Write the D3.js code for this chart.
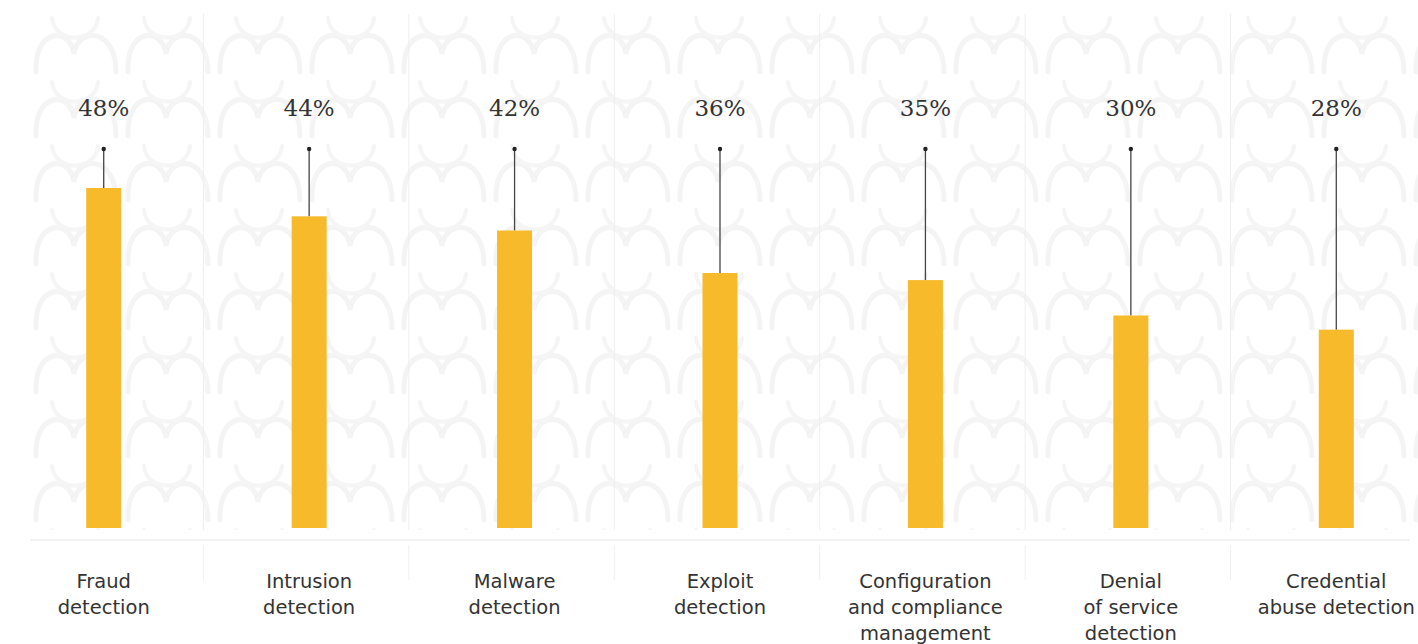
<html>
<head>
<style>
body { margin: 0; background: #fff; }
</style>
</head>
<body>
<svg id="chart"></svg>
<script src="https://cdnjs.cloudflare.com/ajax/libs/d3/7.8.5/d3.min.js"></script>
<script>
// data
var categories = ["Fraud detection", "Intrusion detection", "Malware detection", "Exploit detection",
  "Configuration and compliance management", "Denial of service detection", "Credential abuse detection"]
var labelLines = [
  ["Fraud", "detection"],
  ["Intrusion", "detection"],
  ["Malware", "detection"],
  ["Exploit", "detection"],
  ["Configuration", "and compliance", "management"],
  ["Denial", "of service", "detection"],
  ["Credential", "abuse detection"]
]
var values = [48, 44, 42, 36, 35, 30, 28]

var W = 1418, H = 644
var svg = d3.select("#chart").attr("width", W).attr("height", H)

var x = d3.scaleBand().domain(categories).range([1, 1439]).paddingInner(0)
var y = d3.scaleLinear().domain([0, 48]).range([528, 188])

// faint background pattern
var defs = svg.append("defs")
var pat = defs.append("pattern")
  .attr("id", "swirl")
  .attr("patternUnits", "userSpaceOnUse")
  .attr("width", 92).attr("height", 64)
  .attr("x", 30).attr("y", 14)
pat.append("path")
  .attr("d", "M6,58 C4,14 40,12 44,40 C48,12 86,14 86,58")
  .attr("fill", "none").attr("stroke", "#f4f4f4").attr("stroke-width", 5).attr("stroke-linecap", "round")
pat.append("path")
  .attr("d", "M22,4 C24,30 66,30 68,4")
  .attr("fill", "none").attr("stroke", "#f5f5f5").attr("stroke-width", 4).attr("stroke-linecap", "round")

svg.selectAll("rect.panel")
  .data(categories)
  .enter().append("rect")
  .attr("class", "panel")
  .attr("x", function(d, i) { return i == 0 ? 28 : x(d) })
  .attr("y", 14)
  .attr("width", function(d, i) { return i == 0 ? x(d) + x.bandwidth() - 28 : x.bandwidth() })
  .attr("height", 516)
  .attr("fill", "url(#swirl)")

// separators
var seps = categories.slice(1)
svg.selectAll("line.sep")
  .data(seps)
  .enter().append("line")
  .attr("x1", function(d) { return x(d) - 3 }).attr("x2", function(d) { return x(d) - 3 })
  .attr("y1", 14).attr("y2", 530)
  .attr("stroke", "#eeeeee").attr("stroke-width", 1)
svg.selectAll("line.sep2")
  .data(seps)
  .enter().append("line")
  .attr("x1", function(d) { return x(d) - 3 }).attr("x2", function(d) { return x(d) - 3 })
  .attr("y1", 545).attr("y2", 580)
  .attr("stroke", "#f0f0f0").attr("stroke-width", 1)

svg.append("line")
  .attr("x1", 30).attr("x2", 1410)
  .attr("y1", 540).attr("y2", 540)
  .attr("stroke", "#e8e8e8").attr("stroke-width", 1.2)

var cx = function(d) { return x(d) + x.bandwidth() / 2 }

// stems
svg.selectAll("line.stem")
  .data(categories)
  .enter().append("line")
  .attr("x1", cx).attr("x2", cx)
  .attr("y1", 149)
  .attr("y2", function(d, i) { return y(values[i]) })
  .attr("stroke", "#444").attr("stroke-width", 1.3)
svg.selectAll("circle.dot")
  .data(categories)
  .enter().append("circle")
  .attr("cx", cx).attr("cy", 149).attr("r", 2.2)
  .attr("fill", "#222")

// bars
var bw = 35
svg.selectAll("rect.bar")
  .data(categories)
  .enter().append("rect")
  .attr("x", function(d) { return cx(d) - bw / 2 })
  .attr("y", function(d, i) { return y(values[i]) })
  .attr("width", bw)
  .attr("height", function(d, i) { return y(0) - y(values[i]) })
  .attr("fill", "#f7ba2b")

// value labels
svg.selectAll("text.val")
  .data(categories)
  .enter().append("text")
  .attr("x", cx).attr("y", 116)
  .attr("text-anchor", "middle")
  .attr("font-family", "'DejaVu Serif', 'Liberation Serif', serif")
  .attr("font-size", 23)
  .attr("fill", "#333")
  .text(function(d, i) { return values[i] + "%" })

// category labels
var lab = svg.selectAll("text.cat")
  .data(categories)
  .enter().append("text")
  .attr("text-anchor", "middle")
  .attr("font-family", "'DejaVu Sans', 'Noto Sans', sans-serif")
  .attr("font-size", 19.5)
  .attr("fill", "#333")
lab.each(function(d, i) {
  var t = d3.select(this)
  labelLines[i].forEach(function(line, j) {
    t.append("tspan").attr("x", cx(d)).attr("y", 588 + j * 26).text(line)
  })
})
</script>
</body>
</html>
